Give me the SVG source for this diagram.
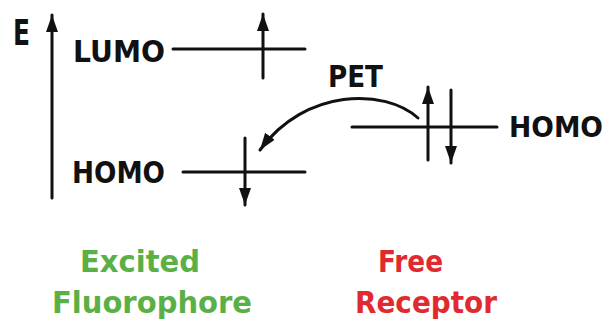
<svg xmlns="http://www.w3.org/2000/svg" width="611" height="327" viewBox="0 0 611 327">
<style>
.lbl{font-family:"DejaVu Sans","Liberation Sans",sans-serif;font-weight:bold;fill:#111;font-size:31px}
.g{fill:#5bb045}
.r{fill:#e02a30}
.ln{stroke:#111;stroke-width:3;fill:none;stroke-linecap:round}
</style>
<defs>
<marker id="ah" markerUnits="userSpaceOnUse" markerWidth="17" markerHeight="18" viewBox="0 0 17 18" refX="17" refY="6" orient="auto">
<path d="M0,0 L17,6 L0,12 Z" fill="#111"/>
</marker>
</defs>
<rect width="611" height="327" fill="#fff"/>
<g id="axis">
<line class="ln" x1="52" y1="198" x2="52" y2="15" marker-end="url(#ah)"/>
<text class="lbl" x="13" y="45" style="font-size:36px" textLength="17" lengthAdjust="spacingAndGlyphs">E</text>
</g>
<g id="fluor-lumo">
<line class="ln" x1="173" y1="49" x2="305" y2="49"/>
<text class="lbl" x="73" y="62" textLength="92" lengthAdjust="spacingAndGlyphs">LUMO</text>
</g>
<g id="fluor-homo">
<line class="ln" x1="183" y1="172" x2="305" y2="172"/>
<text class="lbl" x="72" y="183" textLength="93" lengthAdjust="spacingAndGlyphs">HOMO</text>
</g>
<g id="receptor-homo">
<line class="ln" x1="352" y1="127" x2="497" y2="127"/>
<text class="lbl" x="509" y="137" style="font-size:28.5px" textLength="94" lengthAdjust="spacingAndGlyphs">HOMO</text>
</g>
<g id="connectors">
<line class="ln" x1="263" y1="78" x2="263" y2="14" marker-end="url(#ah)"/>
<line class="ln" x1="245" y1="138" x2="245" y2="205" marker-end="url(#ah)"/>
<line class="ln" x1="428" y1="160" x2="428" y2="87" marker-end="url(#ah)"/>
<line class="ln" x1="451" y1="90" x2="451" y2="163" marker-end="url(#ah)"/>
<path class="ln" d="M418,118 C385,88 305,88 260,150" marker-end="url(#ah)"/>
<text class="lbl" x="328" y="87" textLength="55" lengthAdjust="spacingAndGlyphs">PET</text>
</g>
<g id="captions">
<text class="lbl g" x="80" y="272" textLength="120" lengthAdjust="spacingAndGlyphs">Excited</text>
<text class="lbl g" x="52" y="313" textLength="200" lengthAdjust="spacingAndGlyphs">Fluorophore</text>
<text class="lbl r" x="378" y="272" textLength="65" lengthAdjust="spacingAndGlyphs">Free</text>
<text class="lbl r" x="355" y="313" textLength="142" lengthAdjust="spacingAndGlyphs">Receptor</text>
</g>
</svg>
